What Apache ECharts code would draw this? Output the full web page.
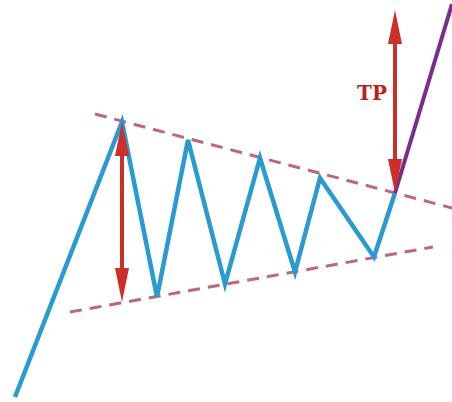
<!DOCTYPE html>
<html>
<head>
<meta charset="utf-8">
<script src="https://cdn.jsdelivr.net/npm/echarts@6/dist/echarts.min.js"></script>
<style>
  html, body { margin: 0; padding: 0; background: #fff; }
  #main { width: 452px; height: 402px; }
</style>
</head>
<body>
<div id="main"></div>
<script>
// picture coordinates, y measured from the top
var pricePath = [[15, 397], [122, 122], [157, 297], [188, 140], [225, 284], [260, 158],
                 [295, 272], [320, 178], [374, 257], [395, 193]];
var breakout = [[395, 193], [452, 4]];
var upperTrend = [[95, 114], [452, 208]];
var lowerTrend = [[70, 312], [433, 247]];
var heightArrow = [[122, 302], [122, 122]];   // bottom tip, top tip
var targetArrow = [[395, 193], [395, 10]];
var tpLabel = [[372, 95]];

var HEAD = 34; // arrow head length

// symbol centre sits on the line end, so pull the ends in by half a head
function shaft(a) {
  var dir = a[1][1] < a[0][1] ? -1 : 1;
  return [[a[0][0], a[0][1] + dir * HEAD / 2], [a[1][0], a[1][1] - dir * HEAD / 2]];
}

var myChart = echarts.init(document.getElementById('main'));
var option = {
  backgroundColor: '#fff',
  animation: false,
  grid: { left: 0, right: 0, top: 0, bottom: 0 },
  xAxis: { type: 'value', min: 0, max: 452, show: false },
  yAxis: { type: 'value', min: 0, max: 402, inverse: true, show: false },
  series: [
    {
      type: 'line',
      data: upperTrend,
      symbol: 'none',
      lineStyle: { color: '#bc6680', width: 3, type: [12, 8] }
    },
    {
      type: 'line',
      data: lowerTrend,
      symbol: 'none',
      lineStyle: { color: '#bc6680', width: 3, type: [12, 8] }
    },
    {
      type: 'line',
      data: pricePath,
      symbol: 'none',
      lineStyle: { color: '#2a9ad2', width: 4.5, join: 'miter', miterLimit: 4 }
    },
    {
      type: 'line',
      data: breakout,
      symbol: 'none',
      lineStyle: { color: '#7a2d8c', width: 4 }
    },
    {
      type: 'lines',
      coordinateSystem: 'cartesian2d',
      z: 5,
      symbol: ['triangle', 'triangle'],
      symbolSize: [[14, HEAD], [14, HEAD]],
      lineStyle: { color: '#cc2e28', width: 4, opacity: 1, curveness: 0 },
      data: [{ coords: shaft(heightArrow) }, { coords: shaft(targetArrow) }]
    },
    {
      type: 'scatter',
      data: tpLabel,
      symbolSize: 0,
      itemStyle: { opacity: 1 },
      label: {
        show: true,
        formatter: 'TP',
        position: 'inside',
        color: '#bb201c',
        opacity: 1,
        fontFamily: 'DejaVu Serif',
        fontWeight: 'bold',
        fontSize: 20
      }
    }
  ]
};
myChart.setOption(option);
</script>
</body>
</html>
